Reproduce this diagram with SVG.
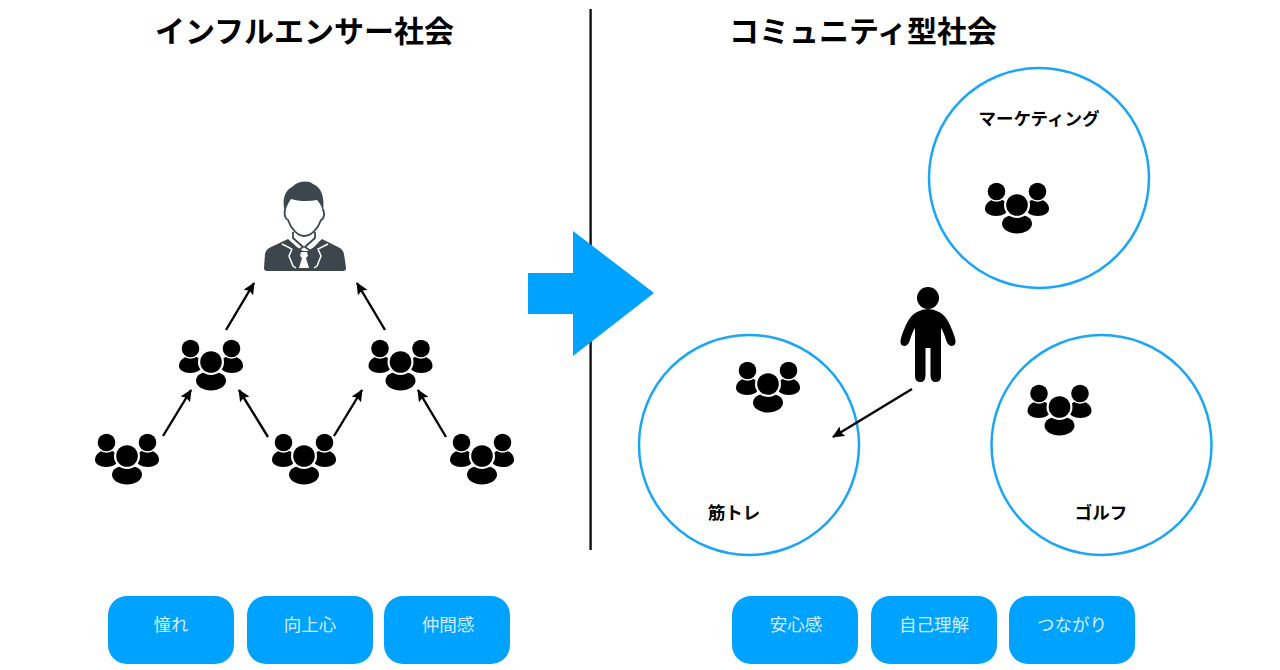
<svg xmlns="http://www.w3.org/2000/svg" width="1280" height="670" viewBox="0 0 1280 670">
<style>
text{font-family:"Noto Sans CJK JP","Liberation Sans",sans-serif}
.title{font-size:30px;font-weight:700;fill:#000;text-anchor:middle}
.label{font-size:17.500px;font-weight:700;fill:#000;text-anchor:middle}
.pill{fill:#00a2ff}
.pilltext{font-size:17.500px;fill:#d5eeff;text-anchor:middle}
.circle{fill:none;stroke:#1ba6f5;stroke-width:2.500}
.conn{stroke:#000;stroke-width:2.400;fill:none;marker-end:url(#ah)}
</style>
<defs>
<marker id="ah" markerUnits="userSpaceOnUse" markerWidth="14" markerHeight="14" refX="11" refY="6" orient="auto"><path d="M0,0.500L12,6L0,11.500L2,6z" fill="#000"/></marker>
<g id="grp">
<path d="M-32,4C-32,-3-25,-6-20,-6C-14,-6-10,-3-8,3C-10,8-14,11-21,11C-27,11-32,8-32,4z"/>
<path d="M32,4C32,-3,25,-6,20,-6C14,-6,10,-3,8,3C10,8,14,11,21,11C27,11,32,8,32,4z"/>
<circle cx="-20.500" cy="-13.500" r="10.200" fill="#fff"/><circle cx="20.500" cy="-13.500" r="10.200" fill="#fff"/>
<circle cx="-20.500" cy="-13.500" r="8.800"/><circle cx="20.500" cy="-13.500" r="8.800"/>
<path d="M-16.500,19C-16.500,11-8,8,0,8C8,8,16.500,11,16.500,19C16.500,25,8,30,0,30C-8,30-16.500,25-16.500,19z" fill="#fff"/>
<path d="M-15,19C-15,13-9,9.500,0,9.500C9,9.500,15,13,15,19C15,24,8,28.500,0,28.500C-8,28.500-15,24-15,19z"/>
<circle r="13" fill="#fff"/><circle r="10.800"/>
</g>
</defs>
<rect width="1280" height="670" fill="#fff"/>
<text class="title" x="304.500" y="42">インフルエンサー社会</text>
<text class="title" x="863" y="42">コミュニティ型社会</text>
<line x1="590.600" y1="9" x2="590.600" y2="550" stroke="#111" stroke-width="2.400"/>
<polygon id="big-arrow" points="528,273 573,273 573,231 654,293 573,356 573,314 528,314" fill="#00a2ff"/>
<g id="influencer">
<path d="M264,268L265,254Q266,249,271,247L288,239L297,247L303,251L308,251L314,247L322,239L338,247Q343,249,344,254L346,268Q346,271,343,271H267Q264,271,264,268Z" fill="#3d464d"/>
<path d="M301,252H307L308,256L306,258L309,268H299L302,258L300,256z" fill="#fff"/>
<path d="M282,244L292,249L289,256L293,266L296,268M328,244L318,249L321,256L317,266L314,268" stroke="#fff" stroke-width="1.500" fill="none"/>
<path d="M285,212C281,198,286,190,292,187C298,181,308,180,313,184C321,187,325,196,323,212C322,207,320,203,317,200C308,202,297,201,291,199C288,203,286,208,285,212z" fill="#3d464d"/>
<path d="M285,209C284,214,285,219,288,220C291,229,298,236,304,236C311,236,318,229,321,220C324,219,325,214,323,209" fill="none" stroke="#3d464d" stroke-width="1.800"/>
<path d="M293,232V238L303,247L296,252L288,241M315,232V238L305,247L312,252L321,241" fill="none" stroke="#3d464d" stroke-width="1.800"/>
</g>
<g id="group-1"><use href="#grp" x="211" y="362"/></g>
<g id="group-2"><use href="#grp" x="400.500" y="362"/></g>
<g id="group-3"><use href="#grp" x="127" y="456"/></g>
<g id="group-4"><use href="#grp" x="304" y="456"/></g>
<g id="group-5"><use href="#grp" x="482" y="456"/></g>
<g id="circle-marketing"><circle class="circle" cx="1039" cy="178" r="110"/><text class="label" x="1039" y="125">マーケティング</text><use href="#grp" x="1017" y="205"/></g>
<g id="circle-muscle"><circle class="circle" cx="749" cy="445" r="110"/><text class="label" x="734" y="519">筋トレ</text><use href="#grp" x="768" y="384"/></g>
<g id="circle-golf"><circle class="circle" cx="1101.500" cy="445" r="110"/><text class="label" x="1101" y="519">ゴルフ</text><use href="#grp" x="1059.500" y="407"/></g>
<g id="person">
<circle cx="928" cy="298" r="11"/>
<path d="M917,312Q928,306,939,312C947,316,951,326,955,338Q957,345,952,346Q948,346,946,340C945,336,943,331,941,328V376Q941,382,935.500,382Q931,382,930.500,376V348H925.500V376Q925,382,920.500,382Q915,382,915,376V328C913,331,911,336,910,340Q908,346,904,346Q899,345,901,338C905,326,909,316,917,312Z"/>
</g>
<g id="connectors">
<line class="conn" x1="163" y1="436" x2="191" y2="390"/>
<line class="conn" x1="226" y1="330" x2="254" y2="283"/>
<line class="conn" x1="268" y1="437" x2="239" y2="390"/>
<line class="conn" x1="334" y1="436" x2="362" y2="390"/>
<line class="conn" x1="385" y1="330" x2="357" y2="283"/>
<line class="conn" x1="446" y1="437" x2="418" y2="390"/>
<line class="conn" x1="912" y1="389" x2="833" y2="437"/>
</g>
<g id="pill-1"><rect class="pill" x="108" y="596" width="126" height="68" rx="19"/><text class="pilltext" x="171" y="631">憧れ</text></g>
<g id="pill-2"><rect class="pill" x="247" y="596" width="126" height="68" rx="19"/><text class="pilltext" x="310" y="631">向上心</text></g>
<g id="pill-3"><rect class="pill" x="384" y="596" width="126" height="68" rx="19"/><text class="pilltext" x="448" y="631">仲間感</text></g>
<g id="pill-4"><rect class="pill" x="732" y="596" width="126" height="68" rx="19"/><text class="pilltext" x="796" y="631">安心感</text></g>
<g id="pill-5"><rect class="pill" x="871" y="596" width="126" height="68" rx="19"/><text class="pilltext" x="934" y="631">自己理解</text></g>
<g id="pill-6"><rect class="pill" x="1009" y="596" width="126" height="68" rx="19"/><text class="pilltext" x="1072" y="631">つながり</text></g>
</svg>
